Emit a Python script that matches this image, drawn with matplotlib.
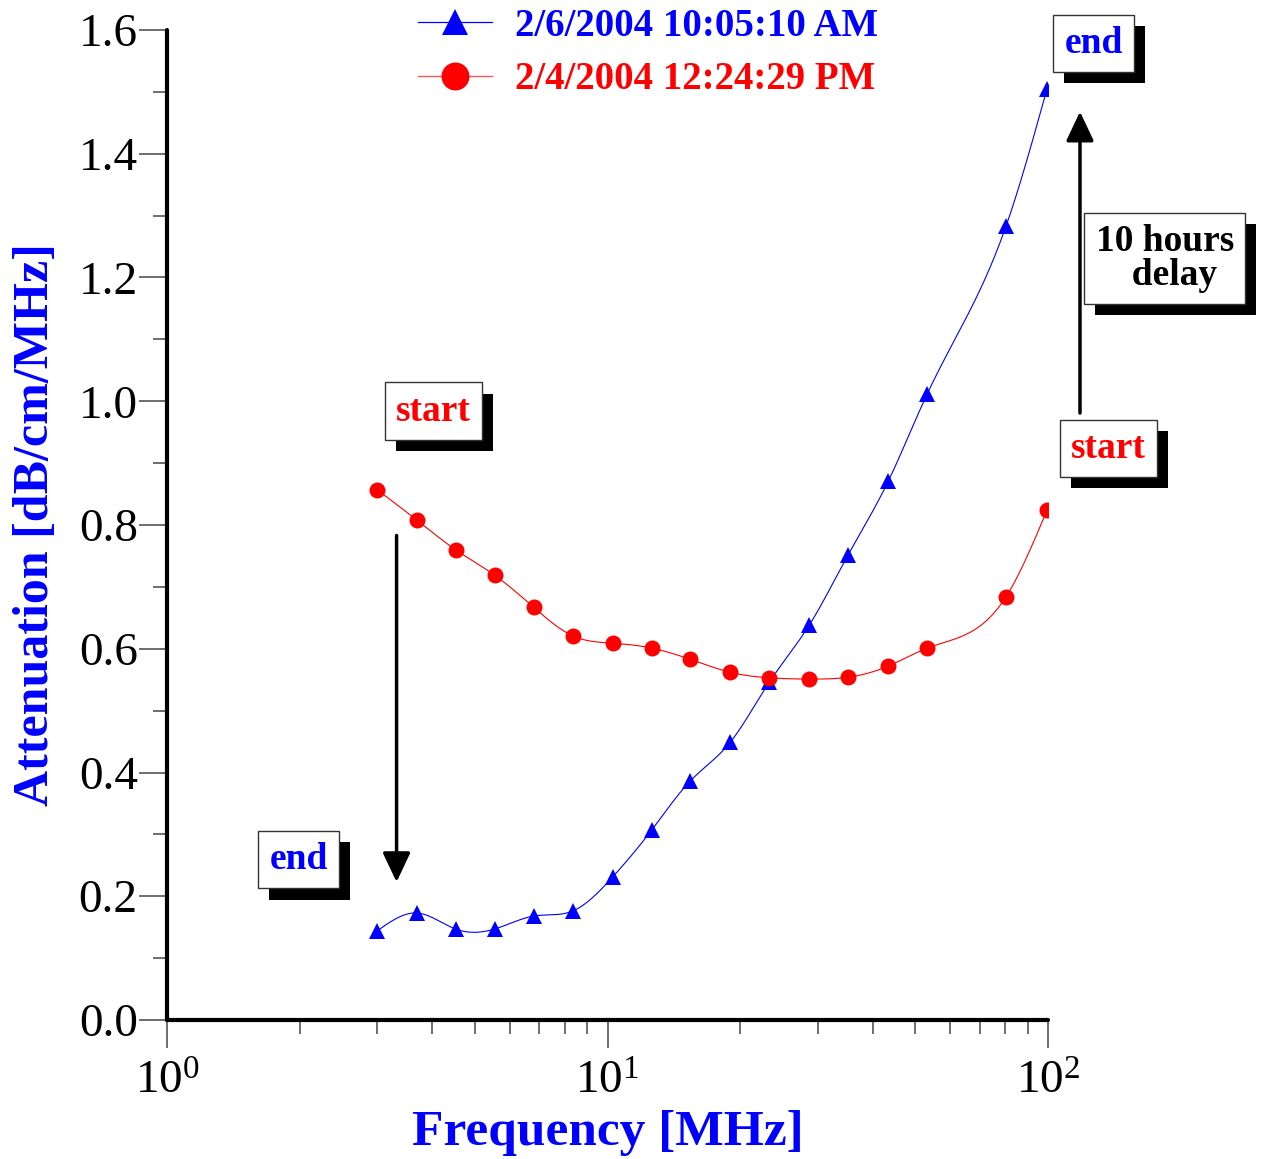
import numpy as np
import matplotlib
matplotlib.use("Agg")
import matplotlib.pyplot as plt
import matplotlib.patheffects as pe
from matplotlib.ticker import FixedLocator, FuncFormatter, LogLocator, MultipleLocator

plt.rcParams['font.family'] = ['Liberation Serif', 'DejaVu Serif']
plt.rcParams['mathtext.fontset'] = 'custom'
plt.rcParams['mathtext.rm'] = 'Liberation Serif'
plt.rcParams['mathtext.it'] = 'Liberation Serif:italic'
plt.rcParams['mathtext.bf'] = 'Liberation Serif:bold'

# ---- data ----
freq = [3.0, 3.69, 4.52, 5.54, 6.80, 8.33, 10.27, 12.6, 15.4, 19.0, 23.3,
        28.7, 35.2, 43.4, 53.2, 80.3, 99.5]
att_feb6 = [0.144, 0.173, 0.147, 0.147, 0.168, 0.176, 0.231, 0.307, 0.386,
            0.449, 0.546, 0.638, 0.752, 0.871, 1.012, 1.283, 1.505]
att_feb4 = [0.857, 0.808, 0.760, 0.719, 0.667, 0.621, 0.609, 0.601, 0.583,
            0.562, 0.553, 0.551, 0.554, 0.572, 0.601, 0.684, 0.824]
label_feb6 = "2/6/2004 10:05:10 AM"
label_feb4 = "2/4/2004 12:24:29 PM"


def natural_spline(x, y, n=400):
    x = np.asarray(x, float); y = np.asarray(y, float)
    k = len(x)
    h = np.diff(x)
    A = np.zeros((k, k)); b = np.zeros(k)
    A[0, 0] = 1; A[-1, -1] = 1
    for i in range(1, k - 1):
        A[i, i - 1] = h[i - 1]
        A[i, i] = 2 * (h[i - 1] + h[i])
        A[i, i + 1] = h[i]
        b[i] = 3 * ((y[i + 1] - y[i]) / h[i] - (y[i] - y[i - 1]) / h[i - 1])
    c = np.linalg.solve(A, b)
    bb = (y[1:] - y[:-1]) / h - h * (2 * c[:-1] + c[1:]) / 3
    d = (c[1:] - c[:-1]) / (3 * h)
    xs = np.linspace(x[0], x[-1], n)
    idx = np.clip(np.searchsorted(x, xs) - 1, 0, k - 2)
    dx = xs - x[idx]
    ys = y[idx] + bb[idx] * dx + c[idx] * dx ** 2 + d[idx] * dx ** 3
    return xs, ys


W, H = 1264, 1159
fig = plt.figure(figsize=(W / 100, H / 100), dpi=100)
ax = fig.add_axes([167 / W, 1 - 1020 / H, (1048 - 167) / W, (1020 - 30) / H])

lx = np.log10(freq)
for yv, col, mk, ms in [(att_feb6, 'blue', '^', 11), (att_feb4, 'red', 'o', 11.5)]:
    xs, ys = natural_spline(lx, yv)
    ax.plot(10 ** xs, ys, color=col, lw=0.8, zorder=2)
    ax.plot(freq, yv, linestyle='none', marker=mk, color=col, ms=ms, zorder=3,
            markeredgewidth=0)

# legend handles
h1, = ax.plot([], [], color='blue', lw=0.9, marker='^', ms=11, markeredgewidth=0)
h2, = ax.plot([], [], color='#ff5555', lw=1.0, marker='o', ms=11.5, markeredgewidth=0,
              markerfacecolor='red')
leg = fig.legend([h1, h2], [label_feb6, label_feb4], loc='upper left',
                 bbox_to_anchor=(418 / W, 1 - 8 / H), frameon=False,
                 prop={'weight': 'bold', 'size': 28}, markerscale=1.75,
                 handlelength=1.9, handletextpad=0.6, labelspacing=0.42,
                 borderpad=0, borderaxespad=0)
for t, c in zip(leg.get_texts(), ['blue', 'red']):
    t.set_color(c)

ax.set_xscale('log')
ax.set_xlim(1, 100)
ax.set_ylim(0, 1.6)
for s in ['top', 'right']:
    ax.spines[s].set_visible(False)
for s in ['left', 'bottom']:
    ax.spines[s].set_linewidth(3)
    ax.spines[s].set_capstyle('round')

ax.yaxis.set_major_locator(MultipleLocator(0.2))
ax.yaxis.set_minor_locator(MultipleLocator(0.1))
ax.yaxis.set_major_formatter(FuncFormatter(lambda v, p: f"{v:.1f}"))
ax.xaxis.set_major_locator(FixedLocator([1, 10, 100]))
ax.xaxis.set_minor_locator(LogLocator(base=10, subs=np.arange(2, 10)))
ax.xaxis.set_major_formatter(FuncFormatter(lambda v, p: r"$\mathregular{10^{%d}}$" % int(round(np.log10(v)))))
ax.xaxis.set_minor_formatter(FuncFormatter(lambda v, p: ""))
ax.tick_params(which='major', length=20, width=1.2, labelsize=34, color='#555555')
ax.tick_params(which='minor', length=10, width=1.2, color='#555555')
ax.tick_params(axis='y', which='major', pad=1)
ax.tick_params(axis='x', which='major', pad=10)

ax.set_xlabel("Frequency [MHz]", color='blue', fontweight='bold', fontsize=37, labelpad=4)
ax.set_ylabel("Attenuation [dB/cm/MHz]", color='blue', fontweight='bold', fontsize=36, labelpad=14)


def box(x, y, text, color, ha='center'):
    t = ax.text(x, y, text, color=color, fontsize=27, fontweight='bold',
                ha=ha, va='center', zorder=5, clip_on=False, linespacing=0.95,
                bbox=dict(boxstyle='square,pad=0.3', fc='white', ec='#333333', lw=1))
    t.get_bbox_patch().set_path_effects([
        pe.SimplePatchShadow(offset=(8, -8), shadow_rgbFace='black', alpha=1.0),
        pe.Normal()])
    return t


box(127, 1.578, "end", 'blue')
box(137, 0.924, "start", 'red')
box(4.03, 0.984, "start", 'red')
box(1.99, 0.259, "end", 'blue')
box(184, 1.231, "10 hours\n  delay", 'black')

arrow = dict(arrowstyle='-|>,head_length=1.8,head_width=0.85', color='black', lw=2.5,
             shrinkA=0, shrinkB=0)
ax.annotate("", xy=(118.2, 1.468), xytext=(118.2, 0.981), arrowprops=arrow,
            annotation_clip=False)
ax.annotate("", xy=(3.32, 0.223), xytext=(3.32, 0.783), arrowprops=arrow,
            annotation_clip=False)

fig.savefig("out.png", dpi=100)
